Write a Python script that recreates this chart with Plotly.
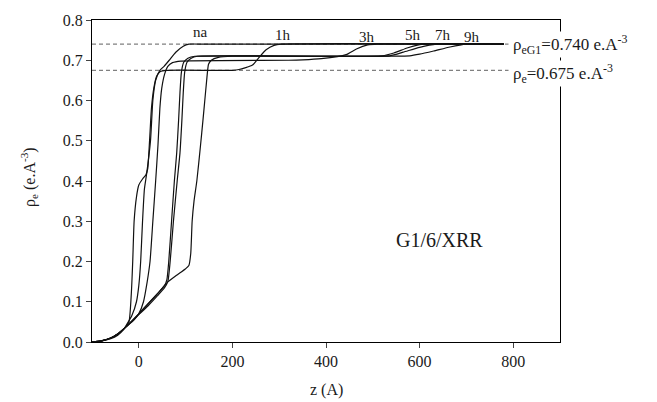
import plotly.graph_objects as go

# ---- data ----
na_x  = [-100, -80, -60, -45, -33, -25, -15, -5, 0, 4, 8, 12, 17, 25, 30, 36, 45, 54, 65, 79, 95, 107, 140, 780]
na_y  = [0.0, 0.002, 0.008, 0.017, 0.03, 0.045, 0.065, 0.10, 0.14, 0.20, 0.30, 0.38, 0.42, 0.50, 0.60, 0.65, 0.675, 0.685, 0.70, 0.72, 0.735, 0.740, 0.740, 0.740]

h1_x  = [-100, -80, -60, -45, -30, -21, -16, -13, -10, -5, 0, 8, 15, 19, 23, 27, 32, 38, 46, 60, 200, 214, 243, 257, 272, 289, 304, 780]
h1_y  = [0.0, 0.003, 0.010, 0.020, 0.035, 0.05, 0.12, 0.20, 0.30, 0.36, 0.39, 0.405, 0.415, 0.43, 0.50, 0.58, 0.63, 0.66, 0.672, 0.675, 0.675, 0.677, 0.688, 0.707, 0.726, 0.737, 0.740, 0.740]

h3_x  = [-100, -80, -60, -45, -28, -10, 0, 10, 18, 24, 30, 36, 41, 45, 49, 55, 62, 72, 90, 320, 350, 390, 443, 465, 489, 510, 780]
h3_y  = [0.0, 0.003, 0.010, 0.020, 0.037, 0.055, 0.07, 0.10, 0.15, 0.20, 0.30, 0.40, 0.49, 0.58, 0.63, 0.665, 0.685, 0.694, 0.698, 0.700, 0.701, 0.704, 0.714, 0.728, 0.738, 0.740, 0.740]

h5_x  = [-100, -80, -60, -45, -28, 0, 20, 40, 55, 60, 64, 70, 76, 81, 85, 88, 91, 96, 105, 120, 520, 545, 575, 606, 780]
h5_y  = [0.0, 0.003, 0.010, 0.020, 0.037, 0.07, 0.095, 0.12, 0.14, 0.155, 0.20, 0.30, 0.40, 0.47, 0.55, 0.62, 0.67, 0.695, 0.705, 0.710, 0.711, 0.718, 0.731, 0.740, 0.740]

h7_x  = [-100, -80, -60, -45, -28, 0, 20, 40, 55, 62, 67, 74, 82, 88, 92, 95, 98, 103, 112, 125, 536, 565, 600, 636, 780]
h7_y  = [0.0, 0.003, 0.010, 0.020, 0.037, 0.068, 0.09, 0.115, 0.135, 0.15, 0.20, 0.30, 0.40, 0.47, 0.55, 0.62, 0.67, 0.695, 0.705, 0.710, 0.711, 0.720, 0.732, 0.740, 0.740]

h9_x  = [-100, -80, -60, -45, -28, 0, 20, 40, 60, 80, 100, 107, 111, 114, 118, 124, 132, 137, 141, 145, 149, 155, 170, 200, 579, 600, 630, 665, 700, 780]
h9_y  = [0.0, 0.003, 0.010, 0.020, 0.037, 0.07, 0.095, 0.12, 0.147, 0.165, 0.182, 0.19, 0.22, 0.30, 0.35, 0.40, 0.49, 0.55, 0.60, 0.65, 0.69, 0.70, 0.707, 0.710, 0.711, 0.715, 0.723, 0.733, 0.740, 0.740]

curves = [(na_x, na_y), (h1_x, h1_y), (h3_x, h3_y), (h5_x, h5_y), (h7_x, h7_y), (h9_x, h9_y)]

label_text = ['na', '1h', '3h', '5h', '7h', '9h']
label_x = [132, 309, 487, 586, 649, 711]
label_y = [0.769, 0.763, 0.758, 0.762, 0.762, 0.758]

ref_levels = [0.740, 0.675]
ref_x = [-100, 790]
ref_text = ['ρ<sub>eG1</sub>=0.740 e.A<sup>-3</sup>', 'ρ<sub>e</sub>=0.675 e.A<sup>-3</sup>']

x_ticks = [0, 200, 400, 600, 800]
y_ticks = [0.0, 0.1, 0.2, 0.3, 0.4, 0.5, 0.6, 0.7, 0.8]

FONT = 'Liberation Serif'
TXT = '#1a1a1a'

fig = go.Figure()

for lvl in ref_levels:
    fig.add_trace(go.Scatter(x=ref_x, y=[lvl, lvl], mode='lines',
                             line=dict(color='#808080', width=1.2, dash='4px,3px'),
                             hoverinfo='skip', showlegend=False))

for cx, cy in curves:
    fig.add_trace(go.Scatter(x=cx, y=cy, mode='lines',
                             line=dict(color='#111111', width=1.2, shape='spline', smoothing=0.5),
                             showlegend=False))

annotations = []
for t, lx, ly in zip(label_text, label_x, label_y):
    annotations.append(dict(x=lx, y=ly, xref='x', yref='y', text=t, showarrow=False,
                            font=dict(family=FONT, size=15, color=TXT)))

for lvl, t, ys in zip(ref_levels, ref_text, [0, -3]):
    annotations.append(dict(x=797, y=lvl, xref='x', yref='y', text=t, showarrow=False,
                            xanchor='left', yanchor='middle', yshift=ys, bgcolor='white',
                            borderpad=0, font=dict(family=FONT, size=17, color=TXT)))

annotations.append(dict(x=643, y=0.254, xref='x', yref='y', text='G1/6/XRR', showarrow=False,
                        font=dict(family=FONT, size=20, color=TXT)))

annotations.append(dict(x=0.5, y=0, xref='paper', yref='paper', text='z (A)', showarrow=False,
                        yanchor='middle', yshift=-48, font=dict(family=FONT, size=16, color=TXT)))
annotations.append(dict(x=0, y=0.41, xref='paper', yref='y', text='ρ<sub>e</sub> (e.A<sup>-3</sup>)',
                        showarrow=False, textangle=-90, xanchor='center', yanchor='middle', xshift=-63,
                        font=dict(family=FONT, size=16, color=TXT)))

fig.update_layout(
    width=657, height=402,
    margin=dict(l=92, r=97, t=15, b=60),
    paper_bgcolor='white', plot_bgcolor='white',
    showlegend=False,
    annotations=annotations,
    xaxis=dict(range=[-100, 900], tickvals=x_ticks, ticks='outside', ticklen=5, tickwidth=1.2,
               showline=True, linecolor='black', linewidth=1.2, mirror=True, showgrid=False,
               zeroline=False, tickfont=dict(family=FONT, size=16, color=TXT)),
    yaxis=dict(range=[0, 0.8], tickvals=y_ticks, tickformat='.1f', ticks='outside', ticklen=5,
               tickwidth=1.2, showline=True, linecolor='black', linewidth=1.2, mirror=True,
               showgrid=False, zeroline=False, tickfont=dict(family=FONT, size=16, color=TXT)),
)

fig.write_html('out.html')
